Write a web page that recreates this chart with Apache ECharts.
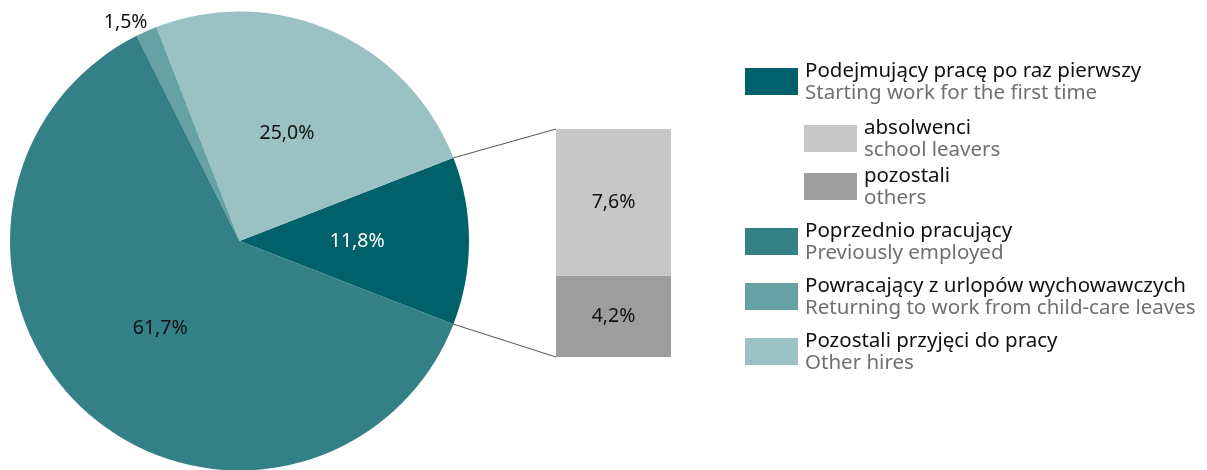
<!DOCTYPE html>
<html><head><meta charset="utf-8">
<script src="https://cdn.jsdelivr.net/npm/echarts@6/dist/echarts.min.js"></script>
<style>html,body{margin:0;padding:0;background:#fff}#c{width:1207px;height:470px}</style>
</head><body><div id="c"></div>
<script>
// ---- data ----
const pieNamesPL = ['Podejmujący pracę po raz pierwszy', 'Pozostali przyjęci do pracy', 'Powracający z urlopów wychowawczych', 'Poprzednio pracujący'];
const pieNamesEN = ['Starting work for the first time', 'Other hires', 'Returning to work from child-care leaves', 'Previously employed'];
const pieValues = [11.8, 25.0, 1.5, 61.7];
const pieColors = ['#00616a', '#9ac1c3', '#66a1a4', '#338086'];
const barNamesPL = ['pozostali', 'absolwenci'];
const barNamesEN = ['others', 'school leavers'];
const barValues = [4.2, 7.6];
const barColors = ['#9d9e9d', '#c6c7c6'];

const fmt = v => v.toFixed(1).replace('.', ',') + '%';
const FONT = 'Noto Sans';
const enMap = {};
pieNamesPL.forEach((n, i) => enMap[n] = pieNamesEN[i]);
barNamesPL.forEach((n, i) => enMap[n] = barNamesEN[i]);

const total = pieValues.reduce((a, b) => a + b, 0);
const half = pieValues[0] / total * 180;
const CX = 239.5, CY = 241, R = 229.5;
const GL = 556, GT = 129, GW = 115, GH = 228;

const legendText = {
  fontFamily: FONT,
  rich: {
    a: { fontFamily: FONT, fontSize: 20.5, color: '#111', lineHeight: 24, padding: [4, 0, 0, 2] },
    b: { fontFamily: FONT, fontSize: 20.5, color: '#707070', lineHeight: 24, padding: [0, 0, 0, 2] }
  }
};
const legendBase = {
  orient: 'vertical', icon: 'rect', itemWidth: 53, itemHeight: 27, selectedMode: false, padding: 0,
  textStyle: legendText,
  formatter: n => '{a|' + n + '}\n{b|' + enMap[n] + '}'
};

const chart = echarts.init(document.getElementById('c'));
chart.setOption({
  animation: false,
  legend: [
    Object.assign({}, legendBase, { left: 745, top: 57, data: [pieNamesPL[0]] }),
    Object.assign({}, legendBase, { left: 804, top: 114, itemGap: 1, data: ['absolwenci', 'pozostali'] }),
    Object.assign({}, legendBase, { left: 745, top: 217, itemGap: 8, data: [pieNamesPL[3], pieNamesPL[2], pieNamesPL[1]] })
  ],
  grid: { left: GL, top: GT, width: GW, height: GH },
  xAxis: { type: 'category', data: [''], show: false },
  yAxis: { type: 'value', min: 0, max: pieValues[0], show: false },
  series: [
    {
      type: 'pie', center: [CX, CY], radius: R, clockwise: false, startAngle: -half,
      label: { position: 'inside', fontFamily: FONT, fontSize: 19.5, color: '#111', formatter: p => fmt(p.value) },
      labelLine: { show: false },
      labelLayout: p => (pieValues[p.dataIndex] < 5 ? { dx: 5.5, dy: 1 } : {}),
      emphasis: { disabled: true },
      data: pieValues.map((v, i) => {
        const d = { name: pieNamesPL[i], value: v, itemStyle: { color: pieColors[i] } };
        if (i === 0) d.label = { color: '#fff' };
        if (v < 5) { d.label = { position: 'outside' }; d.labelLine = { show: false, length: 12, length2: 0 }; }
        return d;
      })
    },
    ...barValues.map((v, i) => ({
      type: 'bar', name: barNamesPL[i], stack: 's', barWidth: '100%',
      itemStyle: { color: barColors[i] },
      label: { show: true, position: 'inside', fontFamily: FONT, fontSize: 19.5, color: '#111', formatter: p => fmt(p.value) },
      emphasis: { disabled: true },
      data: [v]
    }))
  ]
});

// connector lines from pie slice edges to bar corners
const a = half * Math.PI / 180;
const topY = chart.convertToPixel({ gridIndex: 0 }, [0, pieValues[0]])[1];
const botY = chart.convertToPixel({ gridIndex: 0 }, [0, 0])[1];
chart.setOption({
  graphic: [
    { type: 'line', shape: { x1: CX + R * Math.cos(a), y1: CY - R * Math.sin(a), x2: GL, y2: topY }, style: { stroke: '#555', lineWidth: 1 } },
    { type: 'line', shape: { x1: CX + R * Math.cos(a), y1: CY + R * Math.sin(a), x2: GL, y2: botY }, style: { stroke: '#555', lineWidth: 1 } }
  ]
});
</script></body></html>
